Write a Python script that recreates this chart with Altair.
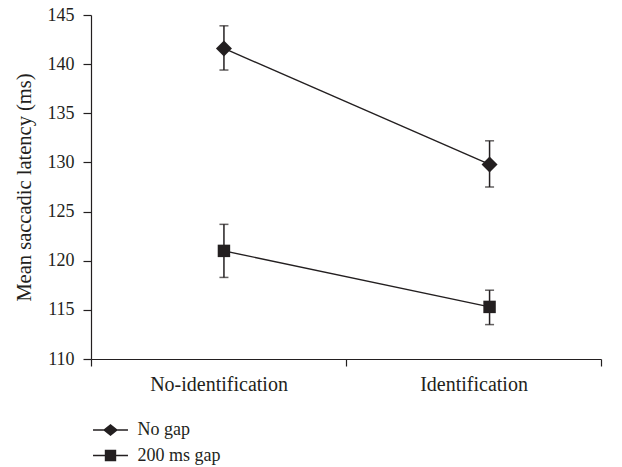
import altair as alt
import pandas as pd

conditions = ["No-identification", "Identification"]
series = ["No gap", "200 ms gap"]
no_gap_mean = [141.6, 129.8]
no_gap_low = [139.4, 127.5]
no_gap_high = [143.9, 132.2]
gap_mean = [121.0, 115.3]
gap_low = [118.3, 113.5]
gap_high = [123.7, 117.0]
y_ticks = [110, 115, 120, 125, 130, 135, 140, 145]

rows = []
for i, c in enumerate(conditions):
    rows.append(dict(condition=c, series=series[0], mean=no_gap_mean[i], lo=no_gap_low[i], hi=no_gap_high[i]))
    rows.append(dict(condition=c, series=series[1], mean=gap_mean[i], lo=gap_low[i], hi=gap_high[i]))
df = pd.DataFrame(rows)

FONT = "Liberation Serif"
INK = "#231f20"

# axis scale: two bands with ticks at the band edges
x_axis = alt.X(
    "condition:N",
    sort=conditions,
    scale=alt.Scale(type="band", domain=conditions, paddingInner=0, paddingOuter=0),
    axis=alt.Axis(title=None, tickBand="extent", labelAngle=0, tickSize=7, labelPadding=8,
                  labelFontSize=20),
)
# mark scale: point positions as placed in the original figure
x_pt = alt.X(
    "condition:N",
    sort=conditions,
    scale=alt.Scale(type="point", domain=conditions, padding=0.46, align=0.544),
    axis=None,
)
y_scale = alt.Scale(domain=[110, 145], nice=False, zero=False)
y = alt.Y(
    "mean:Q",
    scale=y_scale,
    axis=alt.Axis(title="Mean saccadic latency (ms)", values=y_ticks, tickSize=8, labelPadding=9,
                  labelFontSize=18, titleFontSize=20.5, titleFontWeight="normal", titlePadding=13),
)

base = alt.Chart(df)

lines = base.mark_line(color=INK, strokeWidth=1.4).encode(
    x=x_pt, y=y, detail="series:N"
)
bars = base.mark_rule(color=INK, strokeWidth=1.5).encode(
    x=x_pt, y=alt.Y("lo:Q", scale=y_scale), y2="hi:Q"
)
cap_lo = base.mark_tick(color=INK, thickness=1.5, size=9, orient="horizontal").encode(
    x=x_pt, y=alt.Y("lo:Q", scale=y_scale)
)
cap_hi = base.mark_tick(color=INK, thickness=1.5, size=9, orient="horizontal").encode(
    x=x_pt, y=alt.Y("hi:Q", scale=y_scale)
)
diamonds = base.transform_filter(alt.datum.series == series[0]).mark_point(
    filled=True, color=INK, opacity=1, shape="diamond", size=256
).encode(x=x_pt, y=y)
squares = base.transform_filter(alt.datum.series == series[1]).mark_point(
    filled=True, color=INK, opacity=1, shape="square", size=155
).encode(x=x_pt, y=y)

path_diamond = "M-2.33,-0.09H2.33V0.09H-2.33Z M-1,0L0,-0.8L1,0L0,0.8Z"
path_square = "M-2.33,-0.09H2.33V0.09H-2.33Z M-0.76,-0.76H0.76V0.76H-0.76Z"

legend_layer = base.mark_point(filled=True, color=INK, opacity=0).encode(
    x=x_axis,
    y=y,
    shape=alt.Shape(
        "series:N",
        sort=series,
        scale=alt.Scale(domain=series, range=[path_diamond, path_square]),
        legend=alt.Legend(
            title=None, orient="none", legendX=10.5, legendY=406,
            symbolSize=225, symbolFillColor=INK, symbolStrokeColor=INK,
            symbolStrokeWidth=0, symbolOpacity=1,
            labelFont=FONT, labelFontSize=18, labelColor=INK,
            labelOffset=18, rowPadding=7.5, padding=0,
        ),
    ),
)

chart = alt.layer(legend_layer, lines, bars, cap_lo, cap_hi, diamonds, squares).resolve_scale(
    x="independent", shape="independent"
).properties(
    width=510, height=344,
    background="white",
    autosize=alt.AutoSizeParams(type="none"),
    padding={"left": 83, "top": 7, "right": 11, "bottom": 108},
).configure_view(stroke=None).configure_axis(
    grid=False, domainColor=INK, tickColor=INK, labelColor=INK, titleColor=INK,
    labelFont=FONT, titleFont=FONT, domainWidth=1.2, tickWidth=1.2,
).configure_legend(labelFont=FONT, labelColor=INK)

chart.save("out.html", embed_options={"renderer": "svg", "actions": False})
